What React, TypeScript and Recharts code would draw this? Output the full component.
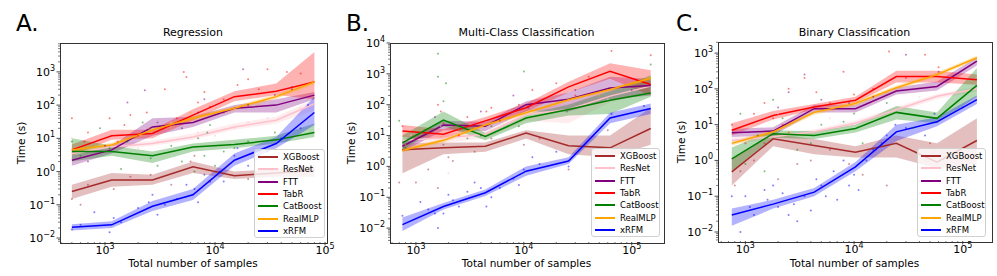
import React from "react"
import { ComposedChart, Line, Area, Scatter, XAxis, YAxis } from "recharts"

const methods = ["XGBoost", "ResNet", "FTT", "TabR", "CatBoost", "RealMLP", "xRFM"]
const colors = ["#a52a2a", "#ffc0cb", "#800080", "#ff0000", "#008000", "#ffa500", "#0000ff"]

// Regression
const regN = [500, 1150, 2700, 6300, 15000, 36000, 80000]
const regMean = {
  XGBoost: [0.25, 0.56, 0.56, 1.4, 0.75, 0.9, 1.1],
  ResNet: [3.5, 5.6, 7, 11, 22, 35, 110],
  FTT: [2.2, 4.5, 22, 30, 80, 100, 200],
  TabR: [4.5, 12, 14, 50, 180, 260, 500],
  CatBoost: [4, 4, 3, 5.5, 6.5, 9, 15],
  RealMLP: [4.5, 6.3, 18, 40, 80, 180, 500],
  xRFM: [0.021, 0.025, 0.09, 0.2, 2.2, 7, 60],
}
const regLo = {
  XGBoost: [0.15, 0.35, 0.4, 0.9, 0.6, 0.7, 0.7],
  ResNet: [2.5, 4.5, 6, 9, 18, 28, 70],
  FTT: [1.5, 3.5, 12, 22, 60, 60, 150],
  TabR: [3, 9, 10, 35, 130, 200, 150],
  CatBoost: [2, 3, 1.8, 4, 5, 7, 11],
  RealMLP: [3.8, 5.5, 15, 33, 68, 155, 420],
  xRFM: [0.017, 0.02, 0.065, 0.14, 1.5, 5, 25],
}
const regHi = {
  XGBoost: [0.4, 0.9, 0.8, 2.0, 1.0, 1.2, 1.6],
  ResNet: [5, 7, 8.5, 14, 28, 45, 150],
  FTT: [3, 6, 40, 45, 100, 150, 250],
  TabR: [6.5, 18, 18, 75, 260, 450, 4000],
  CatBoost: [10, 6, 4, 7, 9, 12, 28],
  RealMLP: [5.2, 7.2, 21, 47, 93, 210, 580],
  xRFM: [0.026, 0.032, 0.13, 0.3, 3.5, 11, 180],
}
// [samples, seconds, method index]
const regDots = [
  [500, 40, 3], [1100, 40, 3], [1500, 25, 3], [2400, 60, 3], [5200, 1000, 3], [5500, 700, 3], [8000, 250, 3],
  [16000, 400, 3], [30000, 1200, 3], [45000, 1000, 3], [60000, 900, 3], [3500, 300, 3], [1300, 8, 3],
  [700, 15, 3], [2000, 12, 3], [4500, 40, 3], [9000, 90, 3], [12000, 150, 3], [25000, 300, 3],
  [650, 8, 3], [1700, 50, 3], [7000, 120, 3], [20000, 600, 3], [50000, 350, 3],
  [2300, 280, 2], [1600, 120, 2], [18000, 1200, 2], [8000, 150, 2], [35000, 200, 2], [12000, 60, 2], [700, 2, 2],
  [3000, 30, 2], [5000, 20, 2], [20000, 100, 2], [50000, 300, 2], [1000, 6, 2], [7000, 60, 2],
  [500, 10, 1], [1300, 10, 1], [3000, 8, 1], [7000, 15, 1], [20000, 30, 1], [60000, 80, 1], [800, 0.5, 1], [4000, 30, 1],
  [10000, 12, 1], [30000, 40, 1], [2000, 5, 1], [15000, 20, 1],
  [500, 8, 4], [600, 3, 4], [900, 20, 4], [1600, 8, 4], [3000, 1.5, 4], [5000, 2, 4], [8000, 3, 4], [7000, 10, 4],
  [15000, 5, 4], [35000, 15, 4], [10000, 1.5, 4], [1400, 1.2, 4], [2200, 30, 4], [4000, 6, 4], [9000, 25, 4],
  [20000, 8, 4], [1100, 5, 4], [6500, 1, 4], [8500, 15, 4], [12000, 4, 4], [2600, 2.5, 4],
  [500, 0.15, 0], [700, 0.4, 0], [1200, 0.3, 0], [2600, 0.8, 0], [6000, 2, 0], [9000, 0.5, 0], [20000, 0.6, 0], [600, 0.1, 0],
  [1700, 0.7, 0], [4000, 0.4, 0], [13000, 1.5, 0], [6500, 3, 0], [30000, 1.2, 0],
  [600, 5, 5], [2500, 20, 5], [4000, 20, 5], [10000, 60, 5], [25000, 100, 5], [1500, 8, 5], [6000, 60, 5],
  [500, 0.018, 6], [800, 0.06, 6], [1100, 0.015, 6], [1400, 0.03, 6], [2500, 0.12, 6], [3000, 0.05, 6], [4500, 0.15, 6],
  [6500, 0.3, 6], [9000, 0.5, 6], [12000, 0.5, 6], [15000, 3, 6], [20000, 1.5, 6], [30000, 4, 6], [40000, 10, 6],
  [70000, 100, 6], [60000, 20, 6], [7000, 0.12, 6], [2000, 0.08, 6], [5500, 0.4, 6], [11000, 1, 6],
  [600, 0.025, 6], [1200, 0.04, 6], [2700, 0.2, 6], [3500, 0.1, 6], [8000, 0.8, 6], [16000, 5, 6], [25000, 3, 6],
]

// Multi-class classification
const mcN = [750, 1800, 4400, 10500, 26000, 63000, 150000]
const mcMean = {
  XGBoost: [3.5, 4, 4.5, 12, 4.7, 4, 17],
  ResNet: [7, 8.3, 11, 48, 70, 190, 400],
  FTT: [4.5, 22, 20, 100, 150, 350, 420],
  TabR: [14, 11, 30, 80, 380, 1200, 450],
  CatBoost: [5.8, 32, 9.3, 37, 70, 140, 240],
  RealMLP: [3.3, 7, 22, 55, 145, 310, 720],
  xRFM: [0.013, 0.05, 0.14, 0.7, 1.5, 37, 75],
}
const mcLo = {
  XGBoost: [0.6, 2.5, 3, 8, 2.5, 2, 5],
  ResNet: [4, 6, 8, 30, 25, 120, 250],
  FTT: [3, 15, 14, 60, 60, 150, 200],
  TabR: [9, 8, 22, 60, 250, 700, 200],
  CatBoost: [3.5, 20, 7, 25, 45, 50, 180],
  RealMLP: [2.8, 6, 19, 48, 125, 270, 620],
  xRFM: [0.008, 0.04, 0.11, 0.5, 1.2, 25, 50],
}
const mcHi = {
  XGBoost: [5.5, 6, 6, 15, 10, 10, 80],
  ResNet: [10, 11, 14, 70, 110, 280, 600],
  FTT: [7, 30, 28, 130, 250, 800, 700],
  TabR: [22, 16, 40, 110, 550, 2200, 1300],
  CatBoost: [10, 60, 12, 50, 100, 280, 900],
  RealMLP: [3.8, 8, 25, 63, 165, 350, 820],
  xRFM: [0.022, 0.065, 0.18, 1, 2, 55, 110],
}
const mcDots = [
  [750, 20, 3], [1600, 100, 3], [1700, 60, 3], [3000, 40, 3], [5000, 80, 3], [9000, 100, 3], [12000, 300, 3],
  [20000, 500, 3], [65000, 5500, 3], [150000, 4000, 3], [2500, 10, 3], [1000, 8, 3], [6000, 30, 3], [40000, 800, 3],
  [1800, 25, 3], [4500, 60, 3], [30000, 200, 3],
  [1600, 4500, 4], [1600, 800, 4], [1900, 500, 4], [10000, 1200, 4], [700, 30, 4], [4000, 10, 4], [150000, 2000, 4],
  [1800, 130, 4], [3000, 8, 4], [1200, 15, 4], [9000, 20, 4], [25000, 60, 4], [800, 4, 4], [5000, 20, 4],
  [700, 0.3, 0], [1300, 0.8, 0], [1600, 0.2, 0], [2000, 2, 0], [5000, 8, 0], [10000, 5, 0], [26000, 0.8, 0], [1000, 0.3, 0],
  [1800, 5, 0], [3500, 3, 0], [14000, 8, 0], [60000, 15, 0], [2200, 1.5, 0],
  [900, 10, 1], [2000, 0.6, 1], [3500, 5, 1], [8000, 30, 1], [20000, 40, 1], [60000, 150, 1], [1700, 20, 1], [5000, 15, 1],
  [1500, 40, 2], [4000, 60, 2], [8000, 200, 2], [30000, 300, 2], [100000, 300, 2], [2500, 15, 2], [11000, 80, 2],
  [800, 5, 5], [2500, 15, 5], [9000, 50, 5], [50000, 200, 5], [1700, 9, 5],
  [750, 0.025, 6], [1100, 0.07, 6], [1500, 0.03, 6], [1600, 0.01, 6], [2000, 0.12, 6], [2500, 0.05, 6], [3500, 0.3, 6],
  [4500, 0.05, 6], [5000, 0.1, 6], [9000, 0.25, 6], [10000, 0.8, 6], [12000, 2, 6], [8000, 0.4, 6], [26000, 1, 6],
  [65000, 50, 6], [130000, 90, 6], [1800, 0.03, 6], [3000, 0.15, 6], [6000, 0.2, 6], [1300, 0.04, 6], [2200, 0.08, 6],
  [4000, 0.2, 6], [14000, 1.2, 6], [20000, 3, 6],
]

// Binary classification
const binN = [750, 1800, 4300, 10300, 24500, 58000, 135000]
const binMean = {
  XGBoost: [0.48, 4, 2.6, 1.7, 3, 0.9, 3.6],
  ResNet: [3.6, 4.6, 6.3, 11, 26, 62, 100],
  FTT: [5.9, 6.6, 28, 28, 87, 117, 600],
  TabR: [7, 18, 31, 48, 220, 220, 180],
  CatBoost: [1.1, 5.6, 5, 7.8, 22, 15, 125],
  RealMLP: [3, 6.3, 22, 39, 108, 250, 740],
  xRFM: [0.03, 0.06, 0.13, 0.66, 6.3, 12, 50],
}
const binLo = {
  XGBoost: [0.2, 2.5, 1.5, 1.2, 1.2, 0.6, 0.8],
  ResNet: [3, 3.8, 5.5, 9.5, 22, 52, 85],
  FTT: [4.5, 5, 22, 22, 70, 90, 450],
  TabR: [5, 14, 26, 40, 150, 150, 130],
  CatBoost: [0.5, 4.3, 4, 6, 14, 11, 60],
  RealMLP: [2.6, 5.5, 19, 34, 95, 220, 650],
  xRFM: [0.015, 0.045, 0.1, 0.5, 3.5, 9, 38],
}
const binHi = {
  XGBoost: [1.1, 5.5, 4, 2.5, 5, 3, 15],
  ResNet: [4.3, 5.5, 7.3, 13, 31, 72, 115],
  FTT: [7.5, 8.5, 36, 36, 110, 160, 750],
  TabR: [11, 24, 38, 60, 320, 320, 250],
  CatBoost: [2.3, 7, 6.5, 10, 33, 22, 380],
  RealMLP: [3.4, 7.2, 25, 45, 122, 285, 840],
  xRFM: [0.045, 0.08, 0.17, 0.9, 10, 16, 65],
}
const binDots = [
  [750, 10, 3], [1200, 20, 3], [1500, 40, 3], [2500, 100, 3], [3500, 200, 3], [4500, 80, 3], [8000, 300, 3],
  [21000, 1100, 3], [45000, 900, 3], [30000, 200, 3], [2200, 10, 3], [6000, 40, 3], [15000, 100, 3],
  [1800, 15, 3], [10000, 70, 3], [60000, 400, 3],
  [2500, 80, 2], [3500, 250, 2], [9000, 40, 2], [30000, 900, 2], [60000, 300, 2], [1000, 3, 2], [5000, 50, 2],
  [2000, 30, 2], [15000, 60, 2],
  [900, 20, 4], [1300, 5, 4], [1800, 50, 4], [3000, 2, 4], [5000, 10, 4], [12000, 3, 4], [35000, 8, 4], [1500, 0.5, 4],
  [2200, 15, 4], [8000, 12, 4], [20000, 40, 4], [1000, 0.8, 4], [4000, 3, 4], [10000, 20, 4],
  [800, 0.2, 0], [1200, 1, 0], [2000, 0.3, 0], [4000, 1, 0], [9000, 0.8, 0], [20000, 0.2, 0], [50000, 3, 0], [3000, 0.8, 0],
  [1500, 3, 0], [6000, 2, 0], [900, 0.5, 0], [2500, 6, 0], [12000, 0.4, 0],
  [1100, 8, 1], [2000, 20, 1], [3500, 15, 1], [6000, 15, 1], [15000, 40, 1], [40000, 60, 1], [1500, 2, 1],
  [1000, 3, 5], [2500, 6, 5], [6000, 30, 5], [20000, 80, 5],
  [750, 0.1, 6], [900, 0.01, 6], [1000, 0.1, 6], [1200, 0.03, 6], [1500, 0.15, 6], [2000, 0.05, 6], [2500, 0.03, 6],
  [3000, 0.02, 6], [3500, 0.1, 6], [4500, 0.3, 6], [5500, 0.1, 6], [7000, 0.08, 6], [10000, 0.4, 6], [11000, 0.15, 6],
  [15000, 2, 6], [20000, 5, 6], [24000, 10, 6], [45000, 5, 6], [100000, 30, 6], [1800, 0.2, 6], [8000, 1, 6],
  [1100, 0.05, 6], [1600, 0.08, 6], [2200, 0.12, 6], [2800, 0.06, 6], [4000, 0.04, 6], [5000, 0.2, 6], [6500, 0.5, 6],
  [9000, 0.2, 6], [13000, 1, 6], [18000, 3, 6], [30000, 8, 6], [55000, 20, 6],
]

const font = "DejaVu Sans, Verdana, sans-serif"

function decadeTicks(lo: number, hi: number) {
  const out: number[] = []
  for (let e = Math.floor(Math.log10(lo)); e <= Math.ceil(Math.log10(hi)); e++) {
    for (let k = 1; k < 10; k++) {
      const v = k * Math.pow(10, e)
      if (v >= lo && v <= hi) out.push(v)
    }
  }
  return out
}

function expOf(v: number) {
  const l = Math.log10(v)
  const e = Math.round(l)
  return Math.abs(l - e) < 1e-6 ? e : null
}

function Pow({ e }: { e: number }) {
  return (
    <>
      10<tspan dy={-5} fontSize={8}>{e < 0 ? "\u2212" + -e : e}</tspan>
    </>
  )
}

function XTick(props: any) {
  const { x, y, payload } = props
  const e = expOf(payload.value)
  return (
    <g>
      <line x1={x} x2={x} y1={y} y2={y + (e !== null ? 3.5 : 2)} stroke="#222" strokeWidth={e !== null ? 0.8 : 0.6} />
      {e !== null && (
        <text x={x} y={y + 11.5} textAnchor="middle" fontSize={11} fontFamily={font} fill="#000">
          <Pow e={e} />
        </text>
      )}
    </g>
  )
}

function YTick(props: any) {
  const { x, y, payload } = props
  const e = expOf(payload.value)
  return (
    <g>
      <line x1={x - (e !== null ? 3.5 : 2)} x2={x} y1={y} y2={y} stroke="#222" strokeWidth={e !== null ? 0.8 : 0.6} />
      {e !== null && (
        <text x={x - 5} y={y + 4} textAnchor="end" fontSize={11} fontFamily={font} fill="#000">
          <Pow e={e} />
        </text>
      )}
    </g>
  )
}

function Dot(props: any) {
  const { cx, cy, payload } = props
  if (cx == null || cy == null) return null
  return <circle cx={cx} cy={cy} r={1} fill={colors[payload.m]} fillOpacity={0.5} />
}

type PanelProps = {
  letter: string
  title: string
  n: number[]
  mean: Record<string, number[]>
  lo: Record<string, number[]>
  hi: Record<string, number[]>
  dots: number[][]
  left: number
  width: number
  plot: { l: number; r: number; t: number; b: number }
  xDomain: [number, number]
  yDomain: [number, number]
  legend: { l: number; t: number; w: number; h: number }
}

function Panel(p: PanelProps) {
  const rows = p.n.map((n, i) => {
    const row: any = { n }
    methods.forEach(m => {
      row[m] = p.mean[m][i]
      row[m + "_band"] = [p.lo[m][i], p.hi[m][i]]
    })
    return row
  })
  const dotRows = p.dots.map(d => ({ n: d[0], t: d[1], m: d[2] }))
  const cx = (p.plot.l + p.plot.r) / 2
  const cy = (p.plot.t + p.plot.b) / 2
  return (
    <>
      <div style={{ position: "absolute", left: p.left, top: 0 }}>
        <ComposedChart
          width={p.width}
          height={276}
          data={rows}
          margin={{ left: p.plot.l - p.left - 1, right: p.left + p.width - p.plot.r, top: p.plot.t, bottom: 276 - p.plot.b - 1 }}
        >
          <XAxis
            dataKey="n"
            type="number"
            scale="log"
            domain={p.xDomain}
            allowDataOverflow
            ticks={decadeTicks(p.xDomain[0], p.xDomain[1])}
            interval={0}
            height={1}
            tickSize={0}
            tickMargin={0}
            axisLine={false}
            tickLine={false}
            tick={XTick}
          />
          <YAxis
            type="number"
            scale="log"
            domain={p.yDomain}
            allowDataOverflow
            ticks={decadeTicks(p.yDomain[0], p.yDomain[1])}
            interval={0}
            width={1}
            tickSize={0}
            tickMargin={0}
            axisLine={false}
            tickLine={false}
            tick={YTick}
          />
          <Scatter data={dotRows} dataKey="t" shape={Dot} isAnimationActive={false} />
          {methods.map((m, i) => (
            <Area
              key={m + "a"}
              dataKey={m + "_band"}
              type="linear"
              stroke="none"
              fill={colors[i]}
              fillOpacity={0.3}
              isAnimationActive={false}
            />
          ))}
          {methods.map((m, i) => (
            <Line
              key={m}
              dataKey={m}
              type="linear"
              stroke={colors[i]}
              strokeWidth={1.5}
              dot={false}
              isAnimationActive={false}
            />
          ))}
        </ComposedChart>
      </div>
      <div
        style={{
          position: "absolute",
          left: p.plot.l - 0.5,
          top: p.plot.t - 0.5,
          width: p.plot.r - p.plot.l,
          height: p.plot.b - p.plot.t,
          border: "1px solid #333",
          pointerEvents: "none",
        }}
      />
      <div style={{ position: "absolute", left: p.left + 16, top: 8, fontSize: 23, fontFamily: font, lineHeight: "30px" }}>
        {p.letter}
      </div>
      <div
        style={{
          position: "absolute",
          left: cx - 150,
          width: 300,
          top: 26,
          textAlign: "center",
          fontSize: 11,
          fontFamily: font,
          lineHeight: "14px",
        }}
      >
        {p.title}
      </div>
      <div
        style={{
          position: "absolute",
          left: cx - 150,
          width: 300,
          top: 257,
          textAlign: "center",
          fontSize: 10.5,
          fontFamily: font,
          lineHeight: "13px",
        }}
      >
        Total number of samples
      </div>
      <div
        style={{
          position: "absolute",
          left: p.left + 21 - 50,
          width: 100,
          top: cy - 7,
          textAlign: "center",
          fontSize: 10.5,
          fontFamily: font,
          lineHeight: "14px",
          transform: "rotate(-90deg)",
        }}
      >
        Time (s)
      </div>
      <div
        style={{
          position: "absolute",
          left: p.legend.l,
          top: p.legend.t,
          width: p.legend.w,
          height: p.legend.h,
          background: "rgba(255,255,255,0.8)",
          border: "1px solid #d0d0d0",
          borderRadius: 3,
          boxSizing: "border-box",
          paddingTop: 1,
        }}
      >
        {methods.map((m, i) => (
          <div key={m} style={{ display: "flex", alignItems: "center", height: 12.3 }}>
            <div style={{ width: 20, height: 0, borderTop: "2px solid " + colors[i], marginLeft: 3, marginRight: 5 }} />
            <span style={{ fontSize: 8.5, fontFamily: font, lineHeight: "12px" }}>{m}</span>
          </div>
        ))}
      </div>
    </>
  )
}

export default function App() {
  return (
    <div style={{ position: "fixed", left: 0, top: 0, width: 997, height: 276, background: "#fff", overflow: "hidden" }}>
      <Panel
        letter="A."
        title="Regression"
        n={regN}
        mean={regMean}
        lo={regLo}
        hi={regHi}
        dots={regDots}
        left={0}
        width={340}
        plot={{ l: 60, r: 326, t: 43, b: 242 }}
        xDomain={[390, 102000]}
        yDomain={[0.0076, 7400]}
        legend={{ l: 254, t: 149, w: 71, h: 89 }}
      />
      <Panel
        letter="B."
        title="Multi-Class Classification"
        n={mcN}
        mean={mcMean}
        lo={mcLo}
        hi={mcHi}
        dots={mcDots}
        left={330}
        width={340}
        plot={{ l: 390, r: 663, t: 43, b: 242 }}
        xDomain={[575, 195000]}
        yDomain={[0.00355, 10000]}
        legend={{ l: 591, t: 148, w: 69, h: 89 }}
      />
      <Panel
        letter="C."
        title="Binary Classification"
        n={binN}
        mean={binMean}
        lo={binLo}
        hi={binHi}
        dots={binDots}
        left={660}
        width={337}
        plot={{ l: 718, r: 991, t: 42, b: 241 }}
        xDomain={[560, 182000]}
        yDomain={[0.0056, 2040]}
        legend={{ l: 917, t: 148, w: 69, h: 89 }}
      />
    </div>
  )
}
